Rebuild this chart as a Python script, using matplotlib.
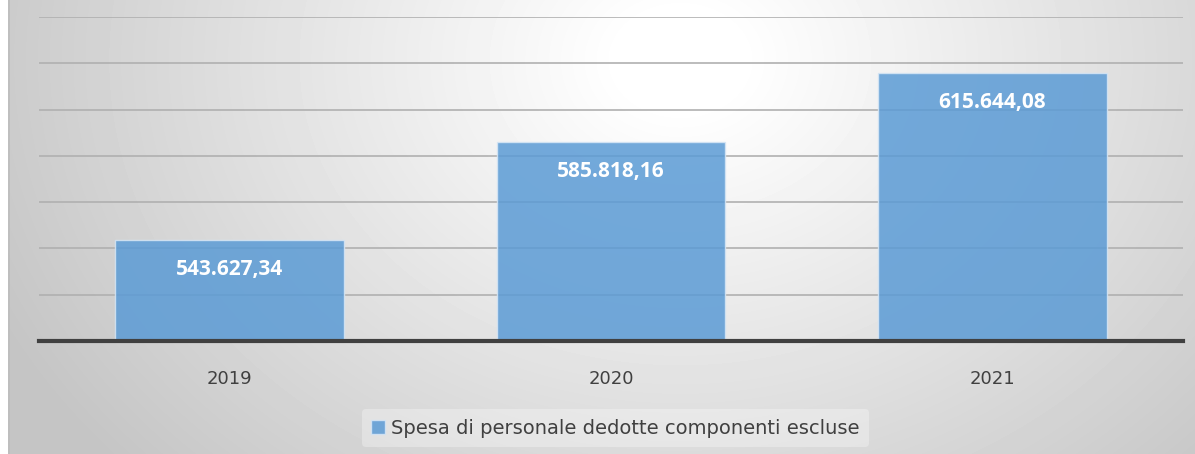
import numpy as np
import matplotlib.pyplot as plt

# dati
anni = ['2019', '2020', '2021']
spesa = [543627.34, 585818.16, 615644.08]
etichette = ['543.627,34', '585.818,16', '615.644,08']
serie = 'Spesa di personale dedotte componenti escluse'

W, H = 1195, 454
fig = plt.figure(figsize=(W / 100, H / 100), dpi=100)
fig.patch.set_facecolor('white')

# sfondo con gradiente radiale
bg = fig.add_axes([8 / W, 0, 1 - 8 / W, 1])
xx, yy = np.meshgrid(np.arange(8, W), np.arange(H))
d = np.sqrt(((xx - 680) / 1.0) ** 2 + ((yy - 60) * 1.25) ** 2)
val = 1.0 - np.clip((d - 60) / 700, 0, 1) * 0.23
bg.imshow(val, cmap='gray', vmin=0, vmax=1, aspect='auto',
          extent=[0, 1, 0, 1], interpolation='bilinear')
bg.set_axis_off()
fig.add_artist(plt.Line2D([8.5 / W, 8.5 / W], [0, 1], color='#BDBDBD', lw=1.2))

ax = fig.add_axes([39 / W, 1 - 341 / H, (1183 - 39) / W, (341 - 17) / H])
ax.patch.set_alpha(0)
x = np.arange(len(anni))
bars = ax.bar(x, spesa, width=0.6, color='#5B9BD5', alpha=0.85,
              edgecolor='#D6E6F5', linewidth=1, zorder=3, label=serie)

ax.set_ylim(500000, 640000)
ax.set_xlim(-0.5, 2.5)
ax.set_yticks(np.arange(520000, 640001, 20000))
ax.yaxis.grid(True, color='#B0B0B0', lw=1.2, zorder=0)
ax.tick_params(axis='y', left=False, labelleft=False)
ax.tick_params(axis='x', length=0, pad=21, labelsize=13, labelcolor='#404040')
ax.set_xticks(x, anni)
for s in ['top', 'right', 'left']:
    ax.spines[s].set_visible(False)
ax.spines['bottom'].set_color('#404040')
ax.spines['bottom'].set_linewidth(3)
ax.spines['bottom'].set_zorder(4)

for b, lab in zip(bars, etichette):
    ax.annotate(lab, (b.get_x() + b.get_width() / 2, b.get_height()),
                xytext=(0, -29), textcoords='offset pixels',
                ha='center', va='center', color='white', fontsize=15,
                fontweight='bold', family='Open Sans', zorder=5)

leg = fig.legend(loc='center', bbox_to_anchor=(0.515, 1 - 428 / H), frameon=True,
                 fontsize=14, handlelength=0.7, handleheight=0.7, handletextpad=0.3,
                 borderpad=0.5)
leg.get_frame().set_facecolor('white')
leg.get_frame().set_alpha(0.3)
leg.get_frame().set_edgecolor('none')
for t in leg.get_texts():
    t.set_color('#404040')

fig.savefig('out.png', dpi=100)
